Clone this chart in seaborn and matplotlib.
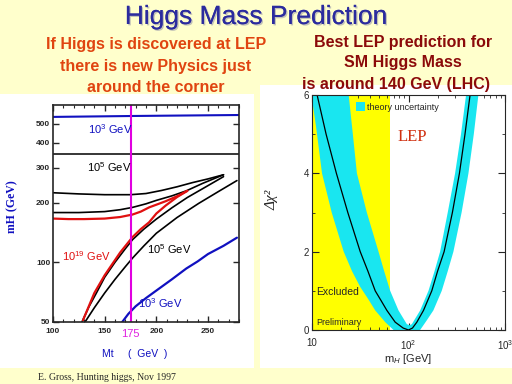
import numpy as np
import pandas as pd
import seaborn as sns
import matplotlib.pyplot as plt
from matplotlib.patches import Rectangle
from matplotlib.ticker import FixedLocator, FixedFormatter, NullLocator, MultipleLocator, LogLocator, NullFormatter
import matplotlib.patheffects as pe

# ---- left panel: bounds on mH vs Mt
mt_top_blue = [100, 180, 280]
mh_top_blue = [540, 546, 552]
mt_flat_black = [100, 280]
mh_flat_black = [350, 350]
mt_black_a = [100, 125, 150, 175, 190, 205, 220, 235, 250, 265]
mh_black_a = [224, 221, 219, 219, 222, 230, 240, 252, 263, 276]
mt_black_b = [100, 125, 150, 165, 177, 190, 200, 215, 229, 245, 265]
mh_black_b = [178, 178, 180, 184, 189, 197, 205, 216, 229, 250, 276]
mt_red_up = [100, 115, 130, 150, 165, 177, 185, 193, 200, 209, 220, 230]
mh_red_up = [166, 165, 165, 166, 169, 174, 180, 189, 195, 203, 215, 229]
mt_red_low = [230, 220, 209, 200, 193, 185, 177, 165, 150, 140, 129]
mh_red_low = [229, 213, 193, 176, 159, 147, 134, 112, 86, 70, 51]
mt_black_c = [128, 135, 142, 150, 160, 170, 177, 188, 200, 215, 230, 248, 265]
mh_black_c = [50, 60, 70, 84, 100, 117, 130, 147, 165, 188, 212, 240, 270]
mt_black_d = [131, 140, 150, 160, 170, 177, 188, 200, 220, 241, 260, 278]
mh_black_d = [50, 59, 70, 82, 95, 105, 121, 140, 168, 198, 227, 258]
mt_low_blue = [167, 173, 180, 190, 200, 215, 229, 240, 250, 265, 278]
mh_low_blue = [50, 55, 60, 66, 72, 82, 93, 101, 110, 121, 133]
mt_measured = 175

# ---- right panel: delta chi2 vs mH
mh_fit = [11.3, 14.0, 17.9, 23.5, 31.6, 38.0, 45.2, 52.0, 59.7, 72.8, 88.0, 100.0, 110.0,
          122.0, 143.0, 174.3, 200.0, 233.9, 285.0, 337.1, 385.0, 434.5]
chi2_fit = [6, 5, 4, 3, 2, 1.5, 1, 0.75, 0.5, 0.2, 0.05, 0, 0.05,
            0.2, 0.5, 1, 1.5, 2, 3, 4, 5, 6]
mh_band_outer = [9.6, 11.0, 12.7, 16.0, 21.3, 26.0, 31.6, 38.0, 45.2, 57.4, 70.0, 132.0, 155.0,
                 181.0, 221.0, 255.0, 292.0, 355.0, 418.0, 475.0, 530.0]
chi2_band_outer = [6.2, 5.2, 4, 3, 2, 1.5, 1.1, 0.8, 0.5, 0.2, 0, 0, 0.25,
                   0.5, 1, 1.5, 2, 3, 4, 5, 6]
mh_band_inner = [24.0, 26.5, 29.2, 37.0, 48.9, 56.0, 64.6, 78.8, 96.1, 102.4, 108.3, 132.1,
                 161.0, 186.0, 212.6, 255.0, 304.0, 350.0, 395.0]
chi2_band_inner = [6, 5, 4, 3, 2, 1.5, 1, 0.5, 0.15, 0.12, 0.15, 0.5,
                   1, 1.5, 2, 3, 4, 5, 6]
mh_excluded = 64

sns.set_style('ticks')
plt.rcParams['font.family'] = ['Liberation Sans', 'DejaVu Sans']
plt.rcParams['mathtext.fontset'] = 'custom'
plt.rcParams['mathtext.rm'] = 'Liberation Sans'
plt.rcParams['mathtext.it'] = 'Liberation Sans:italic'

bg = '#FFFFCC'
fig = plt.figure(figsize=(5.12, 3.84), dpi=100, facecolor=bg)

# white boxes behind the two plots
fig.patches.append(Rectangle((0, 16/384), 254/512, 274/384, transform=fig.transFigure,
                             facecolor='white', edgecolor='none', zorder=-5))
fig.patches.append(Rectangle((260/512, 16/384), 252/512, 283/384, transform=fig.transFigure,
                             facecolor='white', edgecolor='none', zorder=-5))

fig.text(0.5, 1 - 17/384, 'Higgs Mass Prediction', ha='center', va='center', fontsize=19,
         color='#2B2B9E',
         path_effects=[pe.withSimplePatchShadow(offset=(1, -1), shadow_rgbFace='#9999aa', alpha=0.6), pe.Normal()])

for i, line in enumerate(['If Higgs is discovered at LEP', 'there is new Physics just', 'around the corner']):
    fig.text(156/512, 1 - (45 + 21*i)/384, line, ha='center', va='center', fontsize=11.5,
             fontweight='bold', color='#E04410')
for i, (line, xc, yc) in enumerate([('Best LEP prediction for', 403, 42), ('SM Higgs Mass', 403, 63),
                                    ('is around 140 GeV (LHC)', 396, 84)]):
    fig.text(xc/512, 1 - yc/384, line, ha='center', va='center', fontsize=11.5,
             fontweight='bold', color='#8B0A0A')

fig.text(107/512, 1 - 378/384, 'E. Gross, Hunting higgs, Nov 1997', ha='center', va='center',
         fontsize=7, family='Liberation Serif')


def curve(ax, x, y, color, lw):
    sns.lineplot(x=x, y=y, color=color, lw=lw, estimator=None, sort=False, ax=ax, legend=False)


# ---------------- left panel
ax = fig.add_axes([53/512, 1 - 322/384, 186/512, 217/384])
ax.set_facecolor('white')
ax.set_yscale('log')
curve(ax, mt_top_blue, mh_top_blue, '#1010C0', 1.5)
curve(ax, mt_flat_black, mh_flat_black, 'black', 1.1)
curve(ax, mt_black_a, mh_black_a, 'black', 1.2)
curve(ax, mt_black_b, mh_black_b, 'black', 1.2)
curve(ax, mt_black_c, mh_black_c, 'black', 1.2)
curve(ax, mt_red_up, mh_red_up, '#E01010', 1.6)
curve(ax, mt_red_low, mh_red_low, '#E01010', 1.6)
curve(ax, mt_black_d, mh_black_d, 'black', 1.2)
curve(ax, mt_low_blue, mh_low_blue, '#1010C0', 1.6)
ax.axvline(mt_measured, color='#E000E0', lw=1.5)

ax.set_xlim(100, 280)
ax.set_ylim(50, 620)
ax.xaxis.set_major_locator(FixedLocator([100, 150, 200, 250]))
ax.xaxis.set_minor_locator(MultipleLocator(10))
ax.yaxis.set_major_locator(FixedLocator([50, 100, 200, 300, 400, 500]))
ax.yaxis.set_major_formatter(FixedFormatter(['50', '100', '200', '300', '400', '500']))
ax.yaxis.set_minor_locator(NullLocator())
ax.tick_params(which='both', direction='in', top=True, right=True, labelsize=6, pad=2)
ax.tick_params(axis='x', pad=4)
ax.tick_params(which='major', length=4, width=1)
ax.tick_params(which='minor', length=2, width=0.8)
for lab in ax.get_xticklabels() + ax.get_yticklabels():
    lab.set_fontweight('bold')
for s in ax.spines.values():
    s.set_linewidth(1.2)
ax.set_xlabel('')
ax.set_ylabel('')
ax.text(mt_measured, -0.03, '175', transform=ax.get_xaxis_transform(), ha='center', va='top',
        color='#E020E0', fontsize=8)

ax.text(134, 471, '10$^3$ GeV', color='#1010C0', fontsize=8, va='center')
ax.text(133, 300, '10$^5$ GeV', color='black', fontsize=8, va='center')
ax.text(109, 108, '10$^{19}$ GeV', color='#E01010', fontsize=8, va='center')
ax.text(191, 117, '10$^5$ GeV', color='black', fontsize=8, va='center')
ax.text(182, 62, '10$^3$ GeV', color='#1010C0', fontsize=8, va='center')

fig.text(12/512, 1 - 207/384, 'mH (GeV)', rotation=90, ha='center', va='center', color='#1010C0',
         fontsize=8.5, family='Liberation Serif', fontweight='bold')
fig.text(135/512, 1 - 354/384, 'Mt     (  GeV  )', ha='center', va='center', color='#1010C0',
         fontsize=7.5)

# ---------------- right panel
ax2 = fig.add_axes([312/512, 1 - 330/384, 193/512, 235/384])
ax2.set_facecolor('white')
ax2.set_xscale('log')
ax2.axvspan(1, mh_excluded, color='#FFFF00', lw=0, zorder=0)
ax2.fill(mh_band_outer + mh_band_inner[::-1], chi2_band_outer + chi2_band_inner[::-1],
         color='#19E6F0', lw=0, label='theory uncertainty', zorder=1)
sns.lineplot(x=mh_fit, y=chi2_fit, color='black', lw=0.9, estimator=None, sort=False, ax=ax2,
             legend=False, zorder=2)
ax2.set_xlim(10, 1000)
ax2.set_ylim(0, 6)
ax2.xaxis.set_major_locator(FixedLocator([10, 100, 1000]))
ax2.xaxis.set_major_formatter(FixedFormatter(['10', '10$^2$', '10$^3$']))
ax2.xaxis.set_minor_locator(LogLocator(subs=np.arange(2, 10)))
ax2.xaxis.set_minor_formatter(NullFormatter())
ax2.yaxis.set_major_locator(FixedLocator([0, 2, 4, 6]))
ax2.yaxis.set_minor_locator(MultipleLocator(1))
ax2.tick_params(which='both', direction='in', top=True, right=True, labelsize=7, pad=2)
ax2.tick_params(axis='x', pad=6)
ax2.tick_params(which='major', length=5, width=0.8)
ax2.tick_params(which='minor', length=2.5, width=0.6)
for s in ax2.spines.values():
    s.set_linewidth(0.8)
ax2.set_xlabel('m$_H$ [GeV]', fontsize=8, labelpad=0)
ax2.set_ylabel('')
fig.text(272/512, 1 - 200/384, 'Δχ²', rotation=90, ha='center', va='center', fontsize=11,
         family='Liberation Serif', style='italic')

ax2.legend(loc='upper left', bbox_to_anchor=(0.19, 1.0), frameon=False, fontsize=6.5,
           handlelength=1.0, handleheight=1.2, handletextpad=0.2, borderpad=0.3)
ax2.text(0.445, 0.82, 'LEP', transform=ax2.transAxes, color='#D03010', fontsize=12,
         family='Liberation Serif', va='center')
ax2.text(0.02, 0.162, 'Excluded', transform=ax2.transAxes, fontsize=7.5, va='center')
ax2.text(0.02, 0.03, 'Preliminary', transform=ax2.transAxes, fontsize=6.5, va='center')

fig.savefig('out.png', dpi=100, facecolor=bg)
